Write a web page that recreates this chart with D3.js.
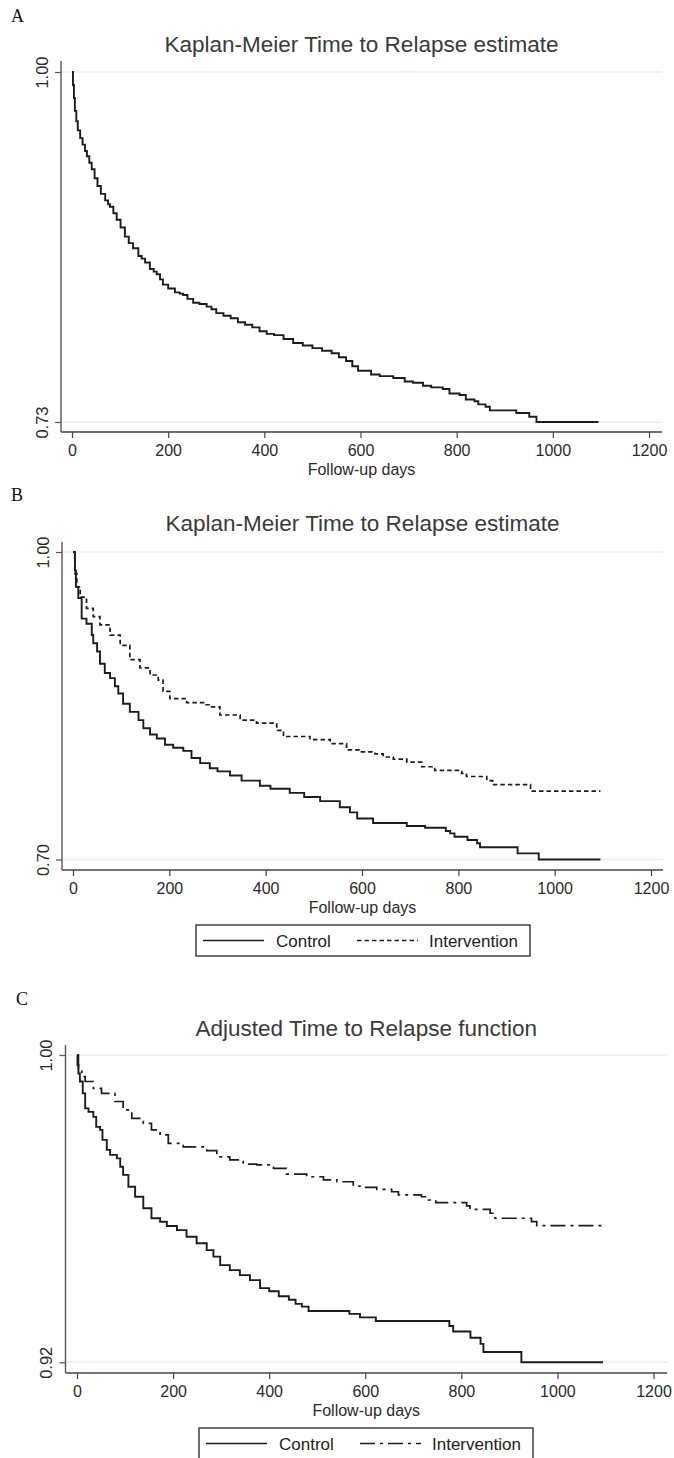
<!DOCTYPE html>
<html>
<head>
<meta charset="utf-8">
<script src="https://cdn.jsdelivr.net/npm/d3@7/dist/d3.min.js"></script>
<style>
  html, body { margin: 0; padding: 0; background: #fff; }
  svg { display: block; }
  .sans { font-family: "Liberation Sans", Arial, Helvetica, sans-serif; }
  .serif { font-family: "Liberation Serif", "Times New Roman", serif; }
</style>
</head>
<body>
<svg id="chart" width="674" height="1458"></svg>
<script>
// ---- Data: Kaplan-Meier step points [day, survival] ----
const xTickDays = [0, 200, 400, 600, 800, 1000, 1200];

const panelTitles = [
  "Kaplan-Meier Time to Relapse estimate",
  "Kaplan-Meier Time to Relapse estimate",
  "Adjusted Time to Relapse function"
];
const panelLetters = ["A", "B", "C"];
const xAxisTitle = "Follow-up days";
const legendLabels = ["Control", "Intervention"];

const yTicksA = [0.73, 1.00];
const yTicksB = [0.70, 1.00];
const yTicksC = [0.92, 1.00];

// Panel A: all patients
const allPatients = [
  [0,1.000],[2,0.990],[4,0.980],[6,0.970],[9,0.962],[12,0.955],[17,0.949],[22,0.944],[27,0.939],[31,0.935],
  [36,0.930],[41,0.925],[47,0.918],[53,0.912],[60,0.906],[69,0.901],[75,0.898],[79,0.896],[86,0.891],[93,0.886],
  [101,0.880],[110,0.873],[118,0.868],[127,0.864],[138,0.858],[145,0.856],[152,0.853],[162,0.848],[170,0.846],[176,0.844],
  [183,0.840],[189,0.836],[200,0.833],[214,0.830],[224,0.829],[231,0.828],[240,0.825],[252,0.822],[265,0.821],[280,0.819],
  [290,0.817],[300,0.814],[315,0.812],[330,0.810],[345,0.807],[360,0.805],[375,0.803],[390,0.800],[405,0.798],[420,0.797],
  [440,0.794],[460,0.791],[480,0.789],[500,0.787],[520,0.785],[540,0.783],[555,0.780],[570,0.777],[583,0.773],[595,0.7695],
  [622,0.7667],[640,0.7654],[668,0.764],[692,0.7613],[709,0.7603],[730,0.758],[747,0.7567],[771,0.7554],[785,0.752],[806,0.7508],
  [819,0.7474],[837,0.746],[845,0.7436],[860,0.7418],[869,0.739],[924,0.737],[951,0.734],[966,0.730],[1095,0.730]
];

// Panel B: unadjusted, by arm
const controlKM = [
  [0,1.000],[4,0.982],[6,0.966],[11,0.955],[18,0.935],[28,0.930],[39,0.919],[42,0.911],[50,0.903],[56,0.891],
  [66,0.882],[77,0.877],[87,0.869],[94,0.862],[104,0.852],[118,0.844],[136,0.836],[146,0.828],[160,0.822],[174,0.818],
  [191,0.812],[208,0.809],[229,0.806],[246,0.799],[264,0.794],[284,0.789],[300,0.786],[326,0.782],[350,0.777],[388,0.772],
  [410,0.769],[450,0.765],[480,0.761],[513,0.757],[554,0.751],[575,0.746],[590,0.740],[623,0.7356],[693,0.7327],[731,0.731],
  [774,0.7278],[783,0.7255],[792,0.7222],[819,0.719],[839,0.7158],[845,0.7119],[923,0.706],[967,0.700],[1095,0.700]
];
const interventionKM = [
  [0,1.000],[4,0.979],[8,0.966],[15,0.956],[28,0.945],[42,0.937],[56,0.929],[77,0.919],[98,0.909],[118,0.895],
  [139,0.887],[160,0.880],[177,0.875],[187,0.864],[201,0.857],[236,0.853],[271,0.851],[284,0.849],[305,0.841],[347,0.836],
  [381,0.833],[423,0.826],[437,0.820],[492,0.817],[534,0.813],[568,0.807],[596,0.805],[627,0.803],[644,0.800],[665,0.798],
  [693,0.795],[724,0.7905],[751,0.787],[807,0.784],[817,0.781],[859,0.777],[871,0.773],[950,0.7668],[1095,0.7668]
];

// Panel C: covariate-adjusted, by arm
const controlAdj = [
  [0,1.000],[1,0.9974],[3,0.9952],[6,0.9931],[12,0.9900],[17,0.9861],[24,0.9852],[34,0.9839],[40,0.9813],[48,0.9805],
  [53,0.9779],[62,0.9753],[69,0.9740],[83,0.9731],[90,0.9709],[96,0.9688],[107,0.9657],[121,0.9631],[138,0.9601],[155,0.9575],
  [173,0.9566],[187,0.9555],[208,0.9544],[228,0.9527],[249,0.9510],[270,0.9492],[284,0.9475],[298,0.9453],[318,0.9440],[339,0.9427],
  [360,0.9414],[381,0.9393],[400,0.9385],[420,0.9372],[441,0.9363],[455,0.9352],[468,0.9345],[482,0.93335],[567,0.9326],[589,0.9317],
  [622,0.93075],[775,0.92945],[783,0.9280],[819,0.9264],[840,0.9248],[846,0.9227],[925,0.9200],[1095,0.9200]
];
const interventionAdj = [
  [0,1.000],[3,0.9965],[10,0.9944],[17,0.9931],[34,0.9913],[51,0.9900],[79,0.9879],[96,0.9857],[114,0.9835],[138,0.9822],
  [155,0.9805],[173,0.9792],[190,0.9770],[221,0.9761],[270,0.9751],[291,0.9735],[318,0.9727],[346,0.9716],[374,0.9714],[409,0.9705],
  [436,0.9690],[478,0.9683],[513,0.9675],[541,0.9670],[575,0.9659],[589,0.96556],[624,0.9650],[655,0.9644],[669,0.9636],[717,0.9631],
  [731,0.96225],[747,0.96155],[811,0.9607],[818,0.9598],[860,0.9588],[870,0.9575],[946,0.9566],[957,0.9556],[1095,0.9556]
];

// ---- Layout ----
const ink = "#1c1c1c";
const dashB = "4.5,3";
const dashDotC = "15,5,3,5";

const panels = [
  { letterX: 11, letterY: 22, titleY: 52, axisX: 61, top: 61, right: 662, axisY: 432,
    x0: 72, x1: 649, yTop: 72, yBot: 422, yTicks: yTicksA,
    series: [{ data: allPatients, dash: null }], legend: null },
  { letterX: 11, letterY: 501, titleY: 531, axisX: 62, top: 542, right: 663, axisY: 870,
    x0: 73, x1: 651, yTop: 552, yBot: 859.5, yTicks: yTicksB,
    series: [{ data: controlKM, dash: null }, { data: interventionKM, dash: dashB }],
    legend: { x: 196, y: 925, w: 334, h: 31 } },
  { letterX: 16, letterY: 1005, titleY: 1036, axisX: 65.5, top: 1045, right: 667, axisY: 1373,
    x0: 77, x1: 653.5, yTop: 1055, yBot: 1362.3, yTicks: yTicksC,
    series: [{ data: controlAdj, dash: null }, { data: interventionAdj, dash: dashDotC }],
    legend: { x: 199, y: 1428, w: 334, h: 41 } }
];

const svg = d3.select("#chart");
svg.append("rect").attr("width", 674).attr("height", 1458).attr("fill", "#fff");

panels.forEach((p, i) => {
  const g = svg.append("g");
  const x = d3.scaleLinear().domain([0, 1200]).range([p.x0, p.x1]);
  const y = d3.scaleLinear().domain(d3.extent(p.yTicks)).range([p.yBot, p.yTop]);
  const cx = (p.axisX + p.right) / 2;

  // panel letter
  g.append("text").attr("class", "serif")
    .attr("x", p.letterX).attr("y", p.letterY)
    .attr("font-size", 18).attr("fill", "#111")
    .text(panelLetters[i]);

  // title
  g.append("text").attr("class", "sans")
    .attr("x", cx).attr("y", p.titleY)
    .attr("text-anchor", "middle")
    .attr("font-size", 22.5).attr("fill", "#3a3a3a")
    .text(panelTitles[i]);

  // gridlines at the labelled y values
  g.selectAll("line.grid").data(p.yTicks).join("line")
    .attr("class", "grid")
    .attr("x1", p.axisX + 1).attr("x2", p.right)
    .attr("y1", d => y(d)).attr("y2", d => y(d))
    .attr("stroke", "#ececec").attr("stroke-width", 1.5);

  // y axis
  const yAxis = d3.axisLeft(y).tickValues(p.yTicks).tickSize(6).tickFormat(d3.format(".2f"));
  const ya = g.append("g").attr("transform", `translate(${p.axisX},0)`).call(yAxis);
  ya.select(".domain").attr("d", `M0,${p.top}V${p.axisY}`)
    .attr("stroke", "#555").attr("stroke-width", 1.4);
  ya.selectAll(".tick line").attr("stroke", "#555").attr("stroke-width", 1.2);
  ya.selectAll(".tick text")
    .attr("class", "sans")
    .attr("font-size", 16.5).attr("fill", "#2a2a2a")
    .attr("x", 0).attr("dy", 0)
    .attr("text-anchor", "middle")
    .attr("transform", "translate(-13.5,0) rotate(-90)");

  // x axis
  const xAxis = d3.axisBottom(x).tickValues(xTickDays).tickSize(6).tickFormat(d3.format("d"));
  const xa = g.append("g").attr("transform", `translate(0,${p.axisY})`).call(xAxis);
  xa.select(".domain").attr("d", `M${p.axisX},0H${p.right}`)
    .attr("stroke", "#444").attr("stroke-width", 1.5);
  xa.selectAll(".tick line").attr("stroke", "#444").attr("stroke-width", 1.2);
  xa.selectAll(".tick text")
    .attr("class", "sans")
    .attr("font-size", 16).attr("fill", "#2a2a2a")
    .attr("y", 24).attr("dy", 0);

  g.append("text").attr("class", "sans")
    .attr("x", cx).attr("y", p.axisY + 43)
    .attr("text-anchor", "middle")
    .attr("font-size", 16).attr("fill", "#2a2a2a")
    .text(xAxisTitle);

  // survival curves (right-continuous steps)
  const line = d3.line().x(d => x(d[0])).y(d => y(d[1])).curve(d3.curveStepAfter);
  p.series.forEach(s => {
    g.append("path").datum(s.data)
      .attr("d", line)
      .attr("fill", "none")
      .attr("stroke", ink)
      .attr("stroke-width", s.dash ? 1.7 : 1.9)
      .attr("stroke-dasharray", s.dash);
  });

  // legend
  if (p.legend) {
    const L = p.legend;
    const lg = g.append("g").attr("transform", `translate(${L.x},${L.y})`);
    lg.append("rect").attr("width", L.w).attr("height", L.h)
      .attr("fill", "#fff").attr("stroke", "#333").attr("stroke-width", 1.4);
    const my = 15.5;
    const items = [
      { x1: 7, x2: 68, tx: 80, dash: null },
      { x1: 161, x2: 222, tx: 233, dash: p.series[1].dash }
    ];
    items.forEach((it, k) => {
      lg.append("line").attr("x1", it.x1).attr("x2", it.x2).attr("y1", my).attr("y2", my)
        .attr("stroke", ink).attr("stroke-width", 1.6).attr("stroke-dasharray", it.dash);
      lg.append("text").attr("class", "sans")
        .attr("x", it.tx).attr("y", my + 6)
        .attr("font-size", 17).attr("fill", "#222")
        .text(legendLabels[k]);
    });
  }
});
</script>
</body>
</html>
